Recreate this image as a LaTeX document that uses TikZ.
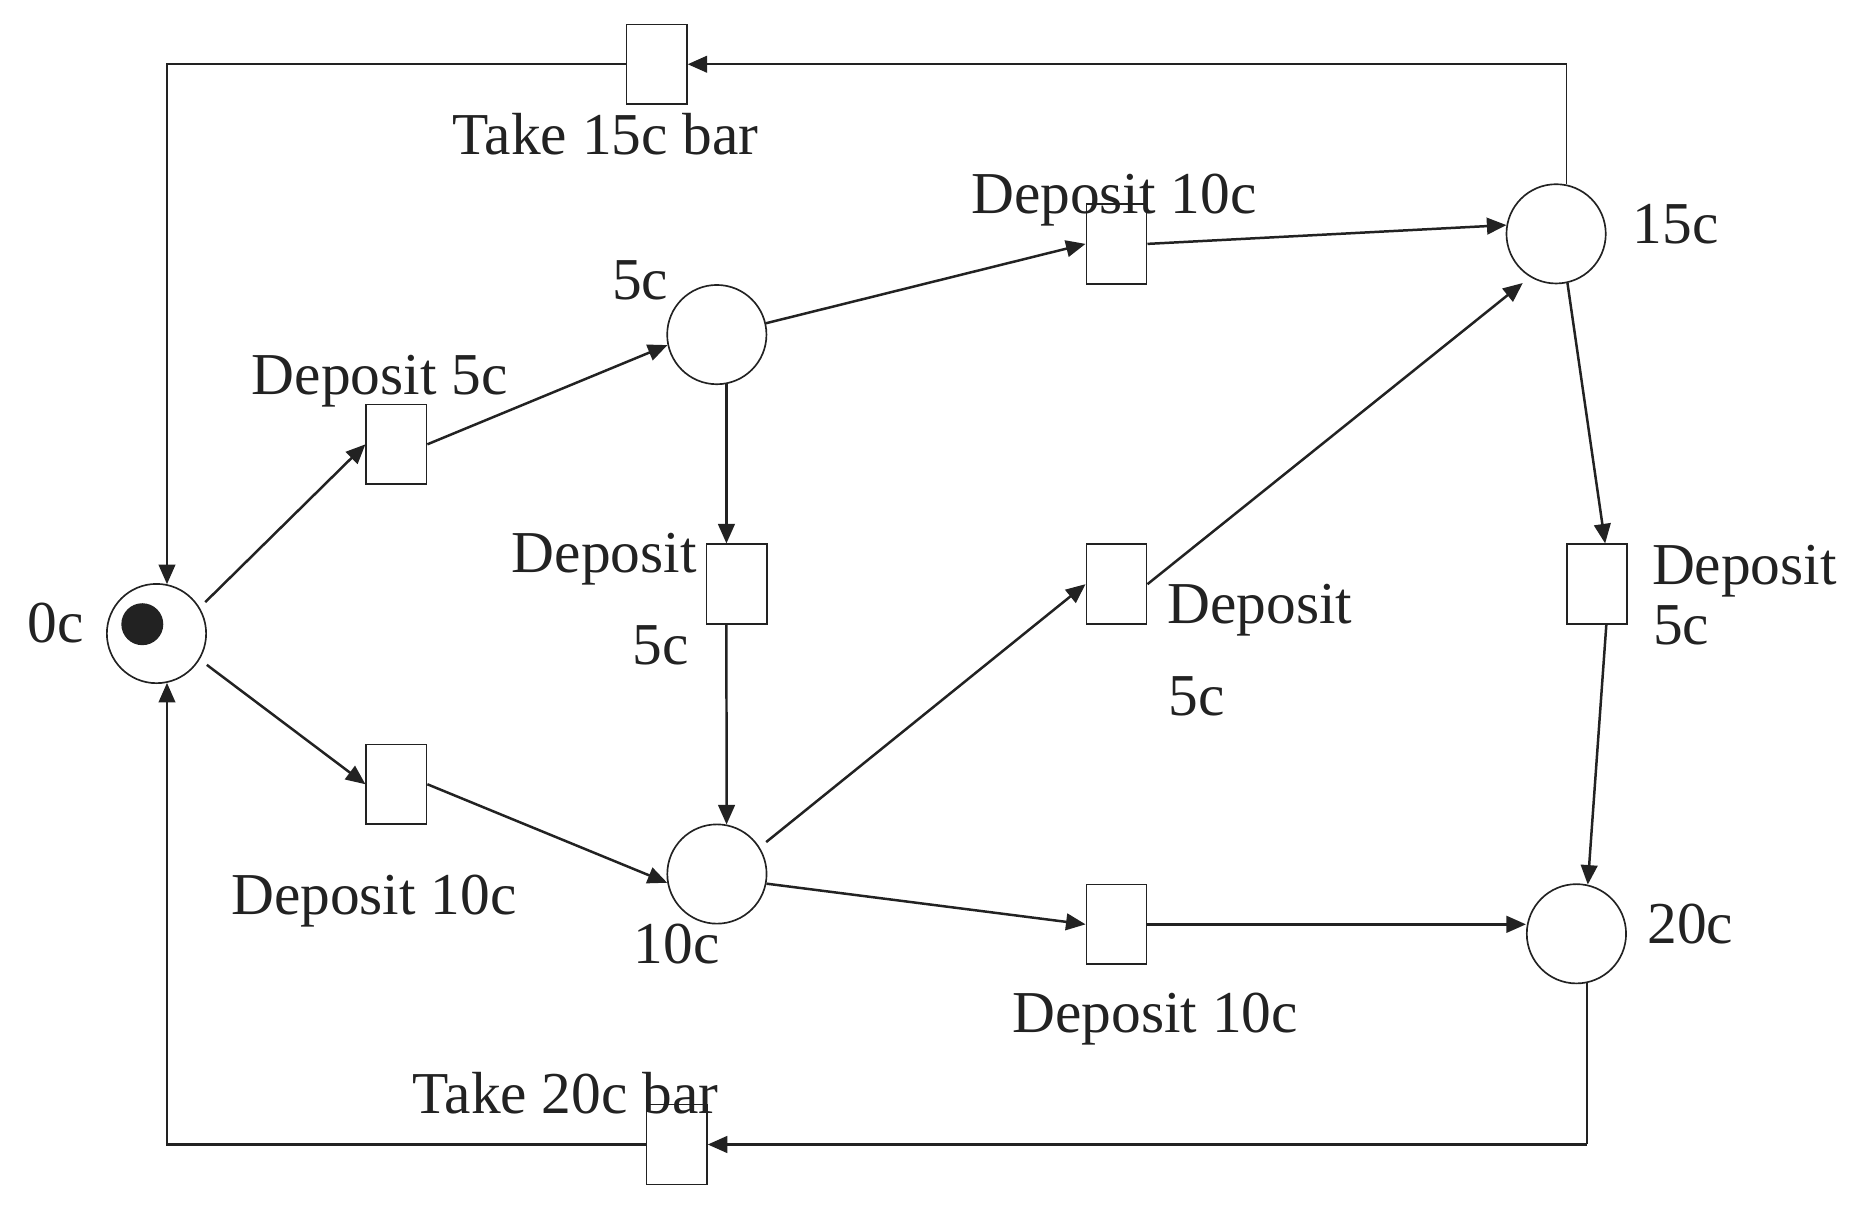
\documentclass[tikz,border=0pt]{standalone}
\usepackage{fontspec}
\setmainfont{Liberation Serif}
\usetikzlibrary{arrows.meta}
\definecolor{ink}{RGB}{34,34,34}
\begin{document}
\begin{tikzpicture}[x=0.01cm,y=-0.01cm,
  place/.style={circle,draw=ink,line width=0.4pt,minimum size=0.84cm,inner sep=0pt},
  trans/.style={rectangle,draw=ink,line width=0.4pt,minimum width=0.51cm,minimum height=0.675cm,inner sep=0pt},
  token/.style={circle,fill=ink,minimum size=0.355cm,inner sep=0pt},
  lbl/.style={anchor=base west,inner sep=0pt,text=ink,font=\fontsize{14.3}{17}\selectfont},
  arc/.style={draw=ink,line width=0.6pt,-{Triangle[length=4.7pt,width=4pt]}},
  seg/.style={draw=ink,line width=0.35pt},
]
\useasboundingbox (0,0) rectangle (1568,1028);
% places
\node[place] (p0)  at (132.5,536.4) {};
\node[token] (tok) at ([xshift=-0.12cm,yshift=0.079cm]p0.center) {};
\node[place] (p5)  at (606.9,283.3) {};
\node[place] (p10) at (607,740) {};
\node[place] (p15) at (1317.5,198) {};
\node[place] (p20) at (1334.7,790.6) {};
% transitions
\node[trans] (t15)  at (556,54.4) {};
\node[trans] (t20)  at (573,969) {};
\node[trans] (d5a)  at (335.6,376.2) {};
\node[trans] (d10a) at (335.6,664) {};
\node[trans] (d5m)  at (623.8,494.6) {};
\node[trans] (d10t) at (945.3,206.5) {};
\node[trans] (d5r)  at (945.3,494.6) {};
\node[trans] (d10b) at (945.3,782.6) {};
\node[trans] (d5x)  at (1352,494.6) {};
% labels
\node[lbl] (l0)   at (22.5,544) {0c};
\node[lbl] (l5)   at (517.5,254) {5c};
\node[lbl] (l10)  at (536,815.5) {10c};
\node[lbl] (l15)  at (1381.6,205.8) {15c};
\node[lbl] (l20)  at (1394,798.5) {20c};
\node[lbl] (lt15) at (382.6,130.5) {Take 15c bar};
\node[lbl] (lt20) at (348.6,942.7) {Take 20c bar};
\node[lbl] (ld5a) at (212.5,333.7) {Deposit 5c};
\node[lbl] (ld10a) at (195,774.5) {Deposit 10c};
\node[lbl] (ld5m1) at (432.6,485) {Deposit};
\node[lbl] (ld5m2) at (535,563) {5c};
\node[lbl] (ld10t) at (821.5,181) {Deposit 10c};
\node[lbl] (ld5r1) at (987.8,527.8) {Deposit};
\node[lbl] (ld5r2) at (989,605.4) {5c};
\node[lbl] (ld10b) at (856.5,874.5) {Deposit 10c};
\node[lbl] (ld5x1) at (1398,495) {Deposit};
\node[lbl] (ld5x2) at (1399,546) {5c};
% arcs
\draw[arc,shorten <=0.065cm] (p0.31) -- (d5a.west);
\draw[arc,shorten <=0.075cm] (p0.-31) -- (d10a.west);
\draw[arc] (d5a.east) -- (p5.192);
\draw[arc] (d10a.east) -- (p10.190);
\draw[arc] (p5.13) -- (d10t.west);
\draw[arc] (d10t.east) -- (p15.170);
\draw[arc] (p5.-79) -- (p5.-79 |- d5m.north);
\draw[arc] (p5.-79 |- d5m.south) -- (p10.79);
\draw[arc,shorten <=0.07cm] (p10.32) -- (d5r.west);
\draw[arc,shorten >=0.08cm] (d5r.east) -- (p15.239);
\draw[arc] (p10.-11) -- (d10b.west);
\draw[arc] (d10b.east) -- (d10b.east -| p20.west);
\draw[arc] (p15.-77) -- ([xshift=0.07cm]d5x.north);
\draw[arc] ([xshift=0.08cm]d5x.south) -- (p20.77);
% return arcs
\coordinate (c1) at (p15.78 |- t15.east);
\coordinate (c2) at (p20.-78 |- t20.east);
\draw[seg] (p15.78) -- (c1);
\draw[arc] (c1) -- (t15.east);
\draw[arc,line width=0.5pt] (t15.west) -| (p0.78);
\draw[seg] (p20.-78) -- (c2);
\draw[arc] (c2) -- (t20.east);
\draw[arc,line width=0.5pt] (t20.west) -| (p0.-78);
\end{tikzpicture}
\end{document}
